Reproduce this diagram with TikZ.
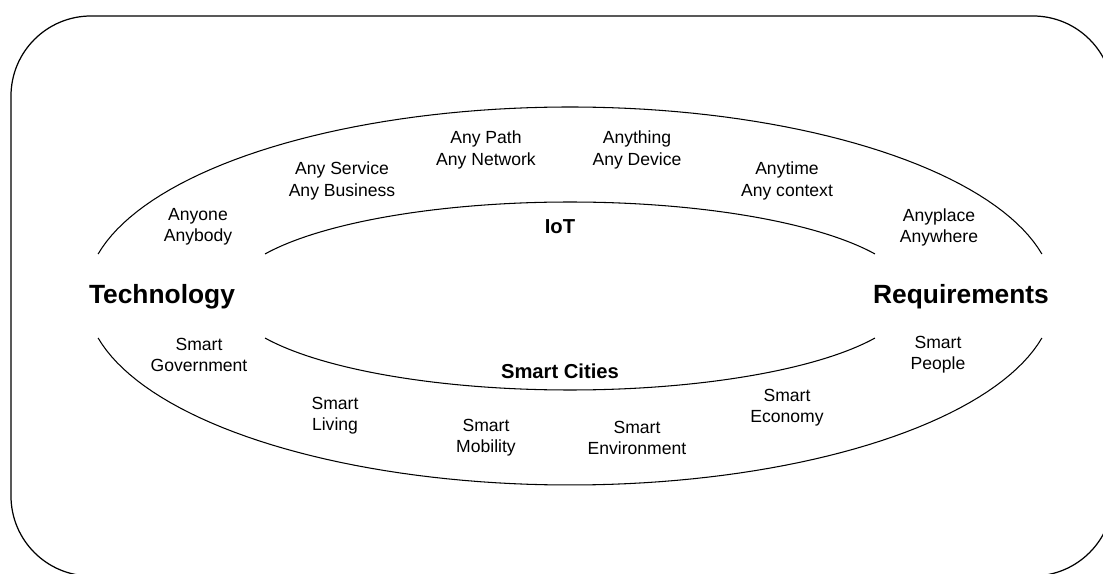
\documentclass[tikz,border=0pt]{standalone}
\usepackage{fontspec}
\setmainfont{Liberation Sans}
\usepackage{tikz}
\tikzset{%
  % Specifications for style of nodes:
  base/.style = {
    align=center,
    inner sep=0pt,
    text=black
  },
  item/.style={base, font=\fontsize{10}{12}\selectfont},
  field/.style={base, font=\fontsize{11.5}{13}\selectfont\bfseries},
  side/.style={base, font=\fontsize{15}{17}\selectfont\bfseries},
  ring/.style={line width=0.6pt},
}

\begin{document}
\begin{tikzpicture}[
  x=0.02cm,
  y=-0.02cm,
  ]
  \useasboundingbox (0,0) rectangle (1103,574);
  \clip (0,0) rectangle (1103,574);
  % frame
  \draw[line width=0.7pt, rounded corners=1.6cm] (11,16) rectangle (1113,576);
  % rings
  \draw[ring] plot[domain=192.84:347.16, samples=80] ({570+484*cos(\x)}, {296+189*sin(\x)});
  \draw[ring] plot[domain=167.16:12.84, samples=80] ({570+484*cos(\x)}, {296+189*sin(\x)});
  \draw[ring] plot[domain=206.57:333.43, samples=80] ({570+341*cos(\x)}, {296+94*sin(\x)});
  \draw[ring] plot[domain=153.43:26.57, samples=80] ({570+341*cos(\x)}, {296+94*sin(\x)});
  % nodes
  \node (tech) [side] at (162,297) {Technology};
  \node (req)  [side] at (961,297) {Requirements};
  \node (iot)    [field] at (560,227) {IoT};
  \node (cities) [field] at (560,371) {Smart Cities};
  \node (anyone)   [item] at (198,227) {Anyone\\Anybody};
  \node (service)  [item] at (342,181) {Any Service\\Any Business};
  \node (path)     [item] at (486,150) {Any Path\\Any Network};
  \node (thing)    [item] at (637,150) {Anything\\Any Device};
  \node (anytime)  [item] at (787,181) {Anytime\\Any context};
  \node (place)    [item] at (939,227) {Anyplace\\Anywhere};
  \node (gov)      [item] at (199,355) {Smart\\Government};
  \node (living)   [item] at (335,416) {Smart\\Living};
  \node (mobility) [item] at (486,438) {Smart\\Mobility};
  \node (environ)  [item] at (637,438) {Smart\\Environment};
  \node (economy)  [item] at (787,408) {Smart\\Economy};
  \node (people)   [item] at (938,355) {Smart\\People};
\end{tikzpicture}
\end{document}
